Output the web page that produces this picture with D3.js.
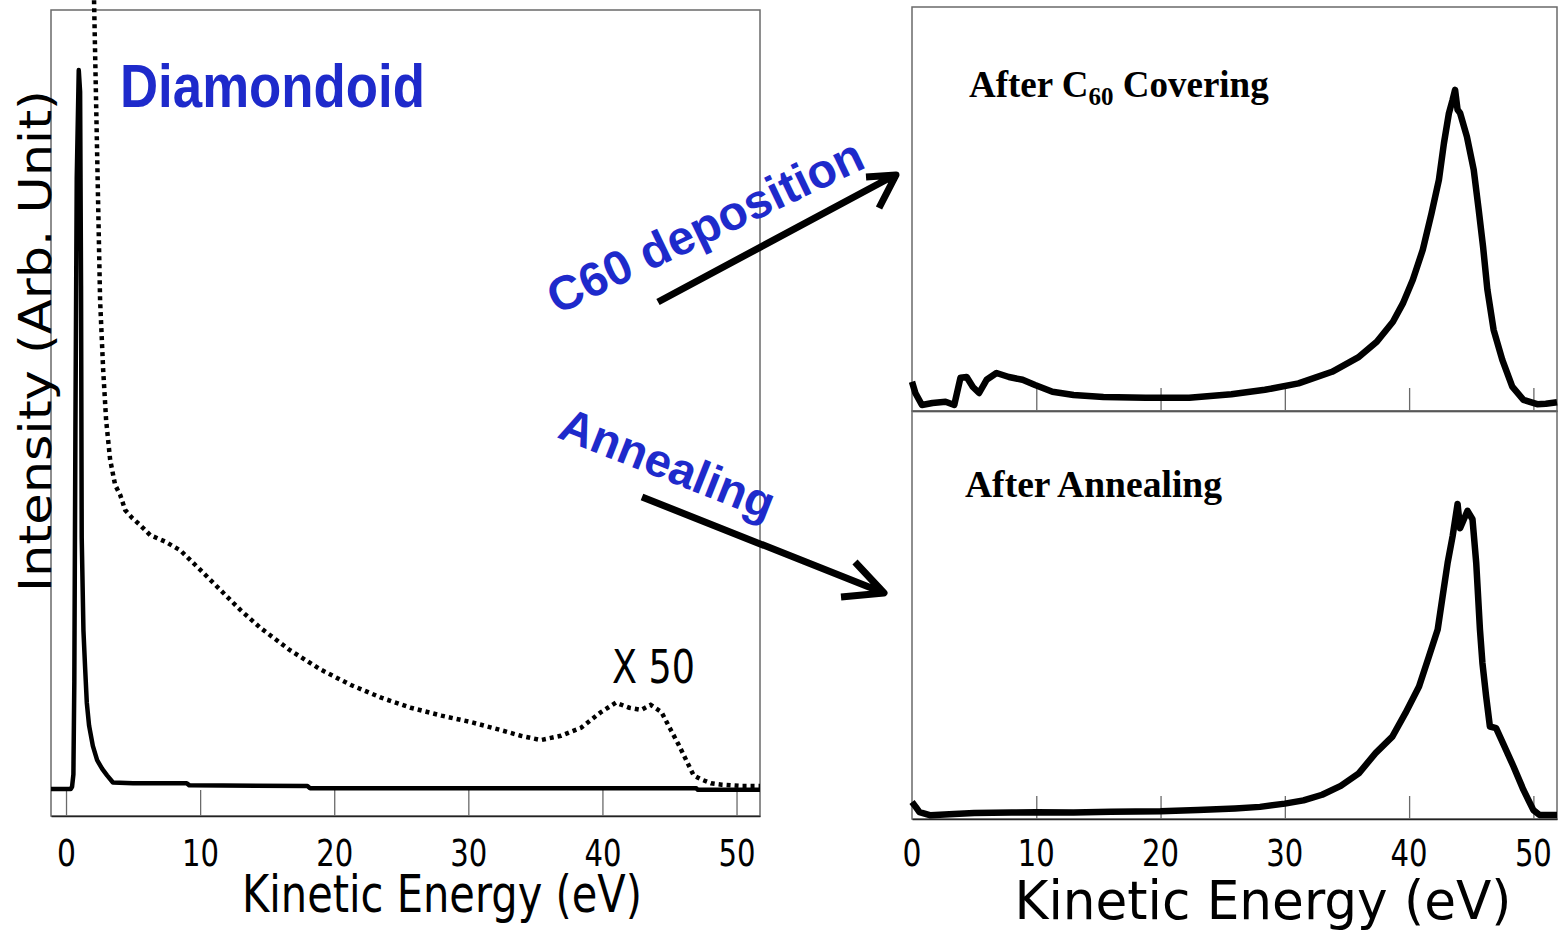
<!DOCTYPE html>
<html><head><meta charset="utf-8">
<script src="https://cdn.jsdelivr.net/npm/d3@7"></script>
<style>html,body{margin:0;padding:0;background:#fff;} svg{display:block;}</style>
</head><body>
<svg id="chart" width="1559" height="931"></svg>
<script>
// ---------------- DATA ----------------
const tickValues = [0, 10, 20, 30, 40, 50];
const tickLabels = ["0", "10", "20", "30", "40", "50"];

// Left panel: Diamondoid, solid spectrum (arb. units, peak = 100)
const leftSolidEnergy = [-1.12, 0.35, 0.45, 0.55, 0.62, 0.70, 0.80, 0.95, 1.05, 1.12, 1.17, 1.30, 1.42, 1.55, 1.72, 2.0, 2.32, 2.7, 3.06, 3.5, 5, 9, 9.2, 18, 18.2, 47, 47.1, 51.75];
const leftSolidIntensity = [0, 0, 0.3, 2, 15, 50, 85, 100, 97, 70, 35, 22, 17, 12, 8.8, 6, 4.0, 2.8, 1.9, 0.9, 0.8, 0.8, 0.5, 0.4, 0.1, 0.1, -0.1, -0.1];

// Left panel: dotted spectrum (x 50)
const leftX50Energy = [2.09, 2.24, 2.39, 2.54, 2.77, 2.99, 3.29, 3.66, 4.04, 4.41, 4.93, 5.53, 6.28, 7.40, 8.52, 10.0, 11.5, 13.0, 14.5, 16.7, 19.0, 21.2, 23.5, 25.7, 28.0, 30.2, 32.4, 33.9, 35.4, 36.9, 38.4, 39.9, 41.0, 42.0, 42.9, 43.6, 44.4, 45.1, 45.7, 46.3, 46.8, 47.4, 48.1, 48.9, 50.4, 51.75];
const leftX50Intensity = [109.7, 95.8, 81.9, 68.0, 58.3, 51.3, 45.8, 42.3, 40.9, 38.8, 37.7, 36.7, 35.3, 34.4, 33.2, 30.5, 27.7, 24.9, 22.4, 19.3, 16.6, 14.5, 12.7, 11.3, 10.2, 9.3, 8.2, 7.4, 6.8, 7.4, 8.5, 10.7, 12.0, 11.3, 11.0, 11.7, 10.7, 8.2, 6.1, 3.8, 1.9, 1.3, 0.8, 0.6, 0.4, 0.4];

// Right top: After C60 Covering
const afterC60Energy = [0.0, 0.27, 0.8, 1.65, 2.7, 3.4, 3.9, 4.4, 4.9, 5.4, 6.0, 6.8, 7.8, 8.9, 9.9, 11.3, 13.0, 15.4, 18.8, 22.3, 25.7, 28.4, 31.1, 33.8, 35.9, 37.4, 38.7, 39.5, 40.3, 41.1, 41.8, 42.4, 42.8, 43.2, 43.5, 43.7, 43.9, 44.1, 44.65, 45.2, 45.6, 45.95, 46.3, 46.8, 47.5, 48.3, 49.2, 50.3, 51.0, 51.9];
const afterC60Intensity = [7.3, 4.5, 1.5, 2.0, 2.3, 1.5, 8.3, 8.5, 6.0, 4.5, 7.8, 9.5, 8.5, 7.8, 6.5, 4.8, 4.0, 3.5, 3.3, 3.3, 4.2, 5.3, 6.9, 9.8, 13.4, 17.3, 22.3, 26.9, 32.8, 40.3, 49.4, 57.8, 66.9, 74.4, 77.8, 80.3, 75.3, 74.5, 68.6, 60.3, 50.3, 41.1, 30.3, 20.3, 12.8, 6.1, 2.8, 1.7, 1.8, 2.2];

// Right bottom: After Annealing
const afterAnnealEnergy = [0.0, 0.3, 0.6, 1.5, 3, 5, 8, 10, 13, 16, 20, 23, 26, 28, 30, 31.5, 33, 34.5, 35.95, 37.3, 38.65, 39.7, 40.8, 41.6, 42.3, 42.7, 43.1, 43.5, 43.9, 44.1, 44.3, 44.7, 45.1, 45.4, 45.7, 45.9, 46.2, 46.5, 47.0, 47.55, 48.4, 49.2, 50.0, 50.5, 51.9];
const afterAnnealIntensity = [4.2, 3.0, 1.7, 0.9, 1.2, 1.5, 1.6, 1.7, 1.6, 1.8, 1.9, 2.2, 2.6, 3.0, 3.8, 4.6, 6.0, 8.2, 11.3, 16.3, 20.4, 26.2, 32.8, 40.3, 46.9, 55.2, 63.4, 70.0, 78.0, 72.0, 73.4, 76.3, 74.2, 63.4, 46.9, 38.6, 30.3, 22.9, 22.5, 18.8, 13.0, 7.2, 2.2, 1.0, 1.0];

// Texts
const axisTitle = "Kinetic Energy (eV)";
const yAxisTitle = "Intensity (Arb. Unit)";
const sampleLabel = "Diamondoid";
const scaleLabel = "X 50";
const step1Label = "C60 deposition";
const step2Label = "Annealing";

// ---------------- DRAWING ----------------
const svg = d3.select("#chart");
const blue = "#1e2acb";
const frameColor = "#6a6a6a";
const tickFont = "'DejaVu Sans', 'Open Sans', sans-serif";

function zip(xs, ys) { return xs.map((x, i) => ({ x, y: ys[i] })); }

// ---- Left panel ----
const L = { left: 51, right: 760, top: 10, bottom: 816 };
const xL = d3.scaleLinear().domain([-1.12, 51.75]).range([L.left, L.right]);
const yL = d3.scaleLinear().domain([-3.76, 108.35]).range([L.bottom, L.top]);

svg.append("rect").attr("x", L.left).attr("y", L.top)
  .attr("width", L.right - L.left).attr("height", L.bottom - L.top)
  .attr("fill", "none").attr("stroke", frameColor).attr("stroke-width", 1.5);

function drawAxis(g, scale, yPos, tickLen, labelBaseline) {
  const ax = d3.axisBottom(scale).tickValues(tickValues)
    .tickFormat((d, i) => tickLabels[i]).tickSizeInner(-tickLen).tickSizeOuter(0);
  const a = g.append("g").attr("transform", `translate(0,${yPos})`).call(ax);
  a.select(".domain").attr("stroke", "#222").attr("stroke-width", 1.5);
  a.selectAll(".tick line").attr("stroke", frameColor).attr("stroke-width", 1.3);
  a.selectAll(".tick text")
    .attr("y", labelBaseline - yPos).attr("dy", 0)
    .attr("font-family", tickFont).attr("font-size", 37).attr("fill", "#000")
    .attr("textLength", d => (String(d).length === 1 ? 19 : 37))
    .attr("lengthAdjust", "spacingAndGlyphs");
  return a;
}
drawAxis(svg, xL, L.bottom, 26, 866);

const lineL = d3.line().x(d => xL(d.x)).y(d => yL(d.y));
svg.append("path").datum(zip(leftSolidEnergy, leftSolidIntensity))
  .attr("d", lineL).attr("fill", "none").attr("stroke", "#000")
  .attr("stroke-width", 4.5).attr("stroke-linejoin", "round");
svg.append("path").datum(zip(leftX50Energy, leftX50Intensity))
  .attr("d", lineL).attr("fill", "none").attr("stroke", "#000")
  .attr("stroke-width", 4.5).attr("stroke-dasharray", "4,4");

svg.append("text").attr("x", 120).attr("y", 107).text(sampleLabel)
  .attr("font-family", "'Liberation Sans', Arial, sans-serif").attr("font-weight", "bold")
  .attr("font-size", 61).attr("fill", blue)
  .attr("textLength", 305).attr("lengthAdjust", "spacingAndGlyphs");

svg.append("text").attr("x", 612).attr("y", 683).text(scaleLabel)
  .attr("font-family", tickFont).attr("font-size", 47).attr("fill", "#000")
  .attr("textLength", 83).attr("lengthAdjust", "spacingAndGlyphs");

svg.append("text").attr("transform", "translate(51,341) rotate(-90)")
  .attr("text-anchor", "middle").text(yAxisTitle)
  .attr("font-family", tickFont).attr("font-size", 44).attr("fill", "#000")
  .attr("textLength", 502).attr("lengthAdjust", "spacingAndGlyphs");

svg.append("text").attr("x", 442).attr("y", 912).attr("text-anchor", "middle").text(axisTitle)
  .attr("font-family", tickFont).attr("font-size", 51).attr("fill", "#000")
  .attr("textLength", 400).attr("lengthAdjust", "spacingAndGlyphs");

// ---- Right panels ----
const R = { left: 912, right: 1557 };
const xR = d3.scaleLinear().domain([0, 51.9]).range([R.left, R.right]);
const panels = [
  { top: 7, bottom: 411, energy: afterC60Energy, values: afterC60Intensity },
  { top: 411, bottom: 819, energy: afterAnnealEnergy, values: afterAnnealIntensity }
];
panels.forEach((p, i) => {
  const y = d3.scaleLinear().domain([0, 101]).range([p.bottom, p.top]);
  svg.append("rect").attr("x", R.left).attr("y", p.top)
    .attr("width", R.right - R.left).attr("height", p.bottom - p.top)
    .attr("fill", "none").attr("stroke", frameColor).attr("stroke-width", 1.5);
  const ax = d3.axisBottom(xR).tickValues(tickValues.slice(1))
    .tickFormat("").tickSizeInner(-23).tickSizeOuter(0);
  const a = svg.append("g").attr("transform", `translate(0,${p.bottom})`).call(ax);
  a.select(".domain").attr("stroke", "#222").attr("stroke-width", 1.5);
  a.selectAll(".tick line").attr("stroke", frameColor).attr("stroke-width", 1.3);
  const line = d3.line().x(d => xR(d.x)).y(d => y(d.y));
  svg.append("path").datum(zip(p.energy, p.values))
    .attr("d", line).attr("fill", "none").attr("stroke", "#000")
    .attr("stroke-width", 6.5).attr("stroke-linejoin", "round");
});

// tick labels for the shared right x-axis
svg.append("g").selectAll("text").data(tickValues).join("text")
  .attr("x", d => xR(d)).attr("y", 866).attr("text-anchor", "middle")
  .text((d, i) => tickLabels[i])
  .attr("font-family", tickFont).attr("font-size", 37)
  .attr("textLength", d => (String(d).length === 1 ? 19 : 37))
  .attr("lengthAdjust", "spacingAndGlyphs");

svg.append("text").attr("x", 1263).attr("y", 919).attr("text-anchor", "middle").text(axisTitle)
  .attr("font-family", tickFont).attr("font-size", 54).attr("fill", "#000")
  .attr("textLength", 497).attr("lengthAdjust", "spacingAndGlyphs");

const serif = "'Liberation Serif', 'Times New Roman', serif";
const t1 = svg.append("text").attr("x", 969).attr("y", 97)
  .attr("font-family", serif).attr("font-weight", "bold").attr("font-size", 37);
t1.append("tspan").text("After C");
t1.append("tspan").attr("font-size", 25).attr("dy", 8).text("60");
t1.append("tspan").attr("dy", -8).text(" Covering");

svg.append("text").attr("x", 965).attr("y", 497)
  .attr("font-family", serif).attr("font-weight", "bold").attr("font-size", 37)
  .attr("textLength", 257).attr("lengthAdjust", "spacingAndGlyphs")
  .text("After Annealing");

// ---- Process annotations ----
svg.append("text").attr("transform", "translate(557,315) rotate(-25.5)").text(step1Label)
  .attr("font-family", "'Liberation Sans', Arial, sans-serif").attr("font-weight", "bold")
  .attr("font-size", 48).attr("fill", blue);
svg.append("text").attr("transform", "translate(556,437) rotate(21.6)").text(step2Label)
  .attr("font-family", "'Liberation Sans', Arial, sans-serif").attr("font-weight", "bold")
  .attr("font-size", 47).attr("fill", blue);

const arrowStyle = g => g.attr("fill", "none").attr("stroke", "#000")
  .attr("stroke-width", 7).attr("stroke-linejoin", "round");
svg.append("path").attr("d", "M658,302 L895,175 M866,177 L896,175 L879,208").call(arrowStyle);
svg.append("path").attr("d", "M642,497 L884,593 M855,562 L884,593 L841,597").call(arrowStyle);
</script>
</body></html>
